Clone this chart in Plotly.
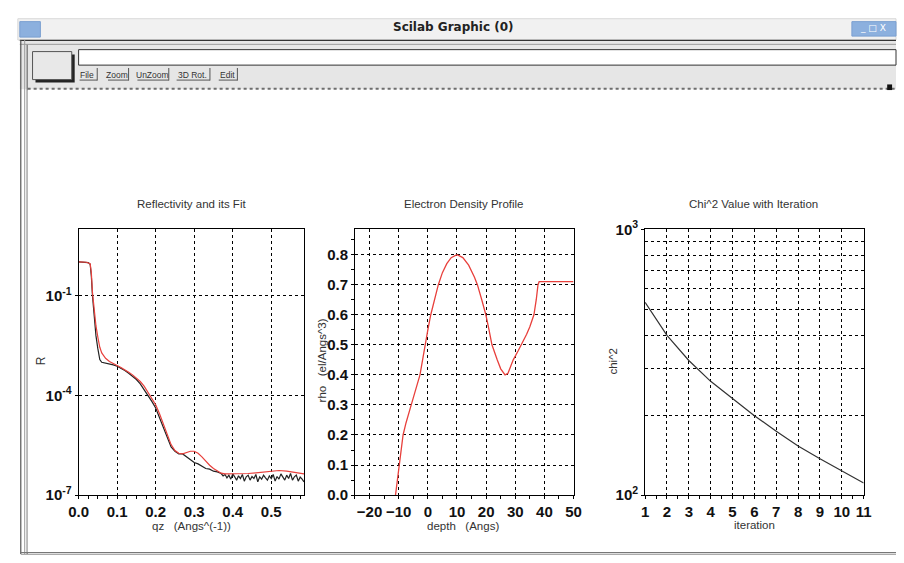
import plotly.graph_objects as go

W, H = 904, 563

# ---------------- data ----------------
qz_measured = [0.000, 0.010, 0.020, 0.025, 0.030, 0.033, 0.036, 0.040, 0.045, 0.050,
               0.055, 0.060, 0.070, 0.080, 0.090, 0.100, 0.110, 0.120, 0.130, 0.140,
               0.150, 0.160, 0.170, 0.180, 0.190, 0.200, 0.210, 0.220, 0.230, 0.240,
               0.250, 0.260, 0.270, 0.280, 0.290, 0.300, 0.310, 0.320, 0.330, 0.340,
               0.350, 0.360, 0.370, 0.375, 0.380, 0.385, 0.390, 0.395, 0.400, 0.405,
               0.410, 0.415, 0.420, 0.425, 0.430, 0.435, 0.440, 0.445, 0.450, 0.455,
               0.460, 0.465, 0.470, 0.475, 0.480, 0.485, 0.490, 0.495, 0.500, 0.505,
               0.510, 0.515, 0.520, 0.525, 0.530, 0.535, 0.540, 0.545, 0.550, 0.555,
               0.560, 0.565, 0.570, 0.575, 0.580, 0.585]
log10_R_measured = [0.02, 0.02, 0.01, 0.00, -0.05, -0.40, -1.00, -1.60, -2.20, -2.60,
                    -2.92, -3.00, -3.02, -3.05, -3.08, -3.12, -3.18, -3.25, -3.33, -3.42,
                    -3.52, -3.65, -3.82, -4.00, -4.18, -4.38, -4.68, -5.00, -5.30, -5.55,
                    -5.68, -5.76, -5.76, -5.85, -5.92, -6.02, -6.06, -6.12, -6.20, -6.22,
                    -6.28, -6.30, -6.35, -6.42, -6.38, -6.48, -6.40, -6.52, -6.36, -6.45,
                    -6.55, -6.42, -6.50, -6.38, -6.58, -6.45, -6.40, -6.55, -6.44, -6.50,
                    -6.38, -6.60, -6.45, -6.52, -6.40, -6.48, -6.55, -6.42, -6.50, -6.38,
                    -6.58, -6.44, -6.52, -6.36, -6.48, -6.55, -6.40, -6.50, -6.35, -6.55,
                    -6.45, -6.40, -6.58, -6.46, -6.52, -6.60]

qz_fit = [0.000, 0.020, 0.030, 0.033, 0.036, 0.040, 0.045, 0.050, 0.055, 0.060,
          0.070, 0.080, 0.090, 0.100, 0.110, 0.120, 0.130, 0.140, 0.150, 0.160,
          0.170, 0.180, 0.190, 0.200, 0.210, 0.220, 0.230, 0.240, 0.250, 0.260,
          0.270, 0.280, 0.290, 0.300, 0.310, 0.320, 0.330, 0.340, 0.350, 0.360,
          0.370, 0.380, 0.400, 0.420, 0.440, 0.460, 0.480, 0.500, 0.520, 0.540,
          0.560, 0.585]
log10_R_fit = [0.02, 0.01, -0.03, -0.30, -0.90, -1.40, -1.90, -2.25, -2.55, -2.72,
               -2.88, -2.98, -3.05, -3.10, -3.16, -3.22, -3.30, -3.38, -3.47, -3.58,
               -3.72, -3.90, -4.08, -4.28, -4.55, -4.88, -5.20, -5.48, -5.66, -5.74,
               -5.76, -5.72, -5.68, -5.68, -5.74, -5.85, -5.98, -6.10, -6.20, -6.28,
               -6.34, -6.36, -6.36, -6.36, -6.35, -6.33, -6.30, -6.27, -6.26, -6.28,
               -6.32, -6.36]

depth = [-11.1, -10.5, -9.8, -9.2, -8.5, -7.5, -6.5, -5.7, -4.5, -3.5,
         -2.7, -1.8, -1.0, 0.0, 1.0, 2.2, 3.6, 5.0, 6.5, 8.0,
         10.0, 12.0, 14.0, 16.0, 17.0, 18.5, 19.9, 21.0, 22.0, 23.8,
         25.0, 26.5, 27.5, 28.5, 29.3, 31.0, 32.7, 33.9, 35.0, 36.4,
         37.2, 37.8, 38.2, 50.0]
rho = [0.00, 0.05, 0.10, 0.16, 0.20, 0.24, 0.27, 0.30, 0.34, 0.37,
       0.40, 0.45, 0.50, 0.55, 0.60, 0.65, 0.70, 0.74, 0.77, 0.79,
       0.80, 0.79, 0.765, 0.725, 0.70, 0.65, 0.60, 0.55, 0.50, 0.45,
       0.42, 0.40, 0.405, 0.43, 0.45, 0.48, 0.51, 0.535, 0.56, 0.60,
       0.65, 0.70, 0.71, 0.71]

iteration = [1, 2, 3, 4, 5, 6, 7, 8, 9, 10, 11]
chi2 = [531, 399, 321, 268, 231, 199, 174, 153, 137, 123, 111]

refl_xticks = [0.0, 0.1, 0.2, 0.3, 0.4, 0.5]
refl_xtick_text = ["0.0", "0.1", "0.2", "0.3", "0.4", "0.5"]
refl_yticks = [1e-7, 1e-4, 1e-1]
refl_ytick_text = ["10<sup>-7</sup>", "10<sup>-4</sup>", "10<sup>-1</sup>"]
dens_xticks = [-20, -10, 0, 10, 20, 30, 40, 50]
dens_yticks = [0.0, 0.1, 0.2, 0.3, 0.4, 0.5, 0.6, 0.7, 0.8]
dens_ytick_text = ["0.0", "0.1", "0.2", "0.3", "0.4", "0.5", "0.6", "0.7", "0.8"]
chi_xticks = [1, 2, 3, 4, 5, 6, 7, 8, 9, 10, 11]
chi_yticks = [100, 1000]
chi_ytick_text = ["10<sup>2</sup>", "10<sup>3</sup>"]
chi_minor_grid = [200, 300, 400, 500, 600, 700, 800, 900]

menu_labels = ["File", "Zoom", "UnZoom", "3D Rot.", "Edit"]

# ---------------- helpers (pixel -> paper) ----------------
def px(x):
    return x / W

def py(y):
    return 1 - y / H

R_measured = [10 ** v for v in log10_R_measured]
R_fit = [10 ** v for v in log10_R_fit]

fig = go.Figure()
fig.add_trace(go.Scatter(x=qz_measured, y=R_measured, mode="lines",
                         line=dict(color="#222222", width=1.2), xaxis="x", yaxis="y",
                         showlegend=False))
fig.add_trace(go.Scatter(x=qz_fit, y=R_fit, mode="lines",
                         line=dict(color="#e8403c", width=1.2), xaxis="x", yaxis="y",
                         showlegend=False))
fig.add_trace(go.Scatter(x=depth, y=rho, mode="lines",
                         line=dict(color="#e8403c", width=1.3), xaxis="x2", yaxis="y2",
                         showlegend=False))
fig.add_trace(go.Scatter(x=iteration, y=chi2, mode="lines",
                         line=dict(color="#333333", width=1.2), xaxis="x3", yaxis="y3",
                         showlegend=False))

tickfont = dict(family="Liberation Sans", size=15, color="#111111", weight="bold")
common = dict(showline=True, linecolor="black", linewidth=1, mirror=True,
              ticks="outside", ticklen=3, tickcolor="black", tickwidth=1,
              showgrid=True, gridcolor="black", griddash="dot", gridwidth=1,
              zeroline=False, tickfont=tickfont, ticklabelstandoff=0)

yb, yt = py(501), py(226)

fig.update_layout(
    width=W, height=H, margin=dict(l=0, r=0, t=0, b=0),
    paper_bgcolor="white", plot_bgcolor="rgba(0,0,0,0)",
    xaxis=dict(domain=[px(70), px(300)], range=[0, 0.585], tickvals=refl_xticks,
               ticktext=refl_xtick_text, anchor="y",
               minor=dict(dtick=0.025, tick0=0, ticks="outside", ticklen=3,
                          tickcolor="black", showgrid=False), **common),
    yaxis=dict(domain=[yb, yt], type="log", range=[-7, 1], tickvals=refl_yticks,
               ticktext=refl_ytick_text, anchor="x", **common),
    xaxis2=dict(domain=[px(352), px(575)], range=[-25, 50], tickvals=dens_xticks,
                anchor="y2",
                minor=dict(dtick=5, tick0=0, ticks="outside", ticklen=3,
                           tickcolor="black", showgrid=False), **common),
    yaxis2=dict(domain=[yb, yt], range=[0, 0.884], tickvals=dens_yticks,
                ticktext=dens_ytick_text, anchor="x2",
                minor=dict(dtick=0.05, tick0=0, ticks="outside", ticklen=3,
                           tickcolor="black", showgrid=False), **common),
    xaxis3=dict(domain=[px(648), px(871)], range=[1, 11], tickvals=chi_xticks,
                anchor="y3",
                minor=dict(dtick=0.5, tick0=1, ticks="outside", ticklen=3,
                           tickcolor="black", showgrid=False), **common),
    yaxis3=dict(domain=[yb, yt], type="log", range=[2, 3], tickvals=chi_yticks,
                ticktext=chi_ytick_text, anchor="x3",
                minor=dict(tickmode="array", tickvals=chi_minor_grid, showgrid=True,
                           gridcolor="black", griddash="dot", gridwidth=1, ticks=""),
                **common),
)

# ---------------- window chrome (shapes) ----------------
shapes = []

def rect(x0, y0, x1, y1, fill=None, line=None, lw=1, layer="below"):
    shapes.append(dict(type="rect", xref="paper", yref="paper",
                       x0=px(x0), x1=px(x1), y0=py(y1), y1=py(y0),
                       fillcolor=fill if fill else "rgba(0,0,0,0)",
                       line=dict(color=line if line else "rgba(0,0,0,0)", width=lw if line else 0),
                       layer=layer))

def hline(x0, x1, y, color, lw=1, dash="solid", layer="below"):
    shapes.append(dict(type="line", xref="paper", yref="paper",
                       x0=px(x0), x1=px(x1), y0=py(y), y1=py(y),
                       line=dict(color=color, width=lw, dash=dash), layer=layer))

def vline(x, y0, y1, color, lw=1, layer="below"):
    shapes.append(dict(type="line", xref="paper", yref="paper",
                       x0=px(x), x1=px(x), y0=py(y0), y1=py(y1),
                       line=dict(color=color, width=lw), layer=layer))

# title bar
rect(8, 8, 904, 30, fill="#f1f1f1", line="#d8d8d8")
rect(10, 11, 31, 27, fill="#8cb0de", line="#7a9fd0")
rect(859, 11, 904, 26, fill="#8cb0de", line="#7a9fd0")
# toolbar area
rect(10, 30, 904, 81, fill="#e6e6e6")
hline(10, 904, 30.5, "#333333", 1.2)
hline(10, 904, 34.5, "#9a9a9a", 1)
# left frame
vline(11, 30, 562, "#555555", 1.2)
vline(15, 30, 562, "#9a9a9a", 1)
vline(17.5, 35, 562, "#555555", 1)
# big button
rect(26, 45, 66, 74, fill="#222222")
rect(23, 42, 63, 71, fill="#e8e8e8", line="#555555")
# text field
rect(70, 40, 904, 56, fill="white", line="#333333")
# dotted separator
hline(18, 904, 80.5, "#6e6e6e", 2, dash="dot")
rect(895, 76, 900, 82, fill="#111111")
# canvas
rect(18, 82, 904, 560, fill="white")
# bottom frame
hline(11, 904, 560.5, "#777777", 1.2)
hline(11, 904, 562.5, "#aaaaaa", 1)

# menu buttons: text plus a bottom/right edge
menu_x = [(71, 89), (100, 121), (130, 162), (170, 204), (213, 232)]
annotations = []
for (x0, x1), lab in zip(menu_x, menu_labels):
    annotations.append(dict(xref="paper", yref="paper", x=px((x0 + x1) / 2 - 1), y=py(66),
                            text=lab, showarrow=False, xanchor="center", yanchor="middle",
                            font=dict(family="Liberation Sans", size=8.5, color="#333333")))
    hline(x0, x1, 71.5, "#555555", 1)
    vline(x1, 59, 72, "#555555", 1)

fig.update_layout(shapes=shapes)

def ann(x, y, text, size=12, color="#333333", angle=0, family="Liberation Sans", weight="normal"):
    annotations.append(dict(xref="paper", yref="paper", x=px(x), y=py(y), text=text,
                            showarrow=False, xanchor="center", yanchor="middle",
                            textangle=angle,
                            font=dict(family=family, size=size, color=color, weight=weight)))

ann(452, 17, "Scilab Graphic (0)", size=12, color="#222222", family="DejaVu Sans", weight="bold")
ann(881, 18, "_ □ X", size=9, color="white", family="DejaVu Sans")

ann(185, 200, "Reflectivity and its Fit", size=11.5)
ann(185, 533, "qz   (Angs^(-1))", size=11.5)
ann(31, 362, "R", size=12, angle=-90)

ann(463, 200, "Electron Density Profile", size=11.5)
ann(462, 533, "depth   (Angs)", size=11.5)
ann(318, 362, "rho   (el/Angs^3)", size=11.5, angle=-90)

ann(759, 200, "Chi^2 Value with Iteration", size=11.5)
ann(760, 532, "iteration", size=11.5)
ann(615, 362, "chi^2", size=11.5, angle=-90)

fig.update_layout(annotations=annotations)

fig.write_html("out.html")
